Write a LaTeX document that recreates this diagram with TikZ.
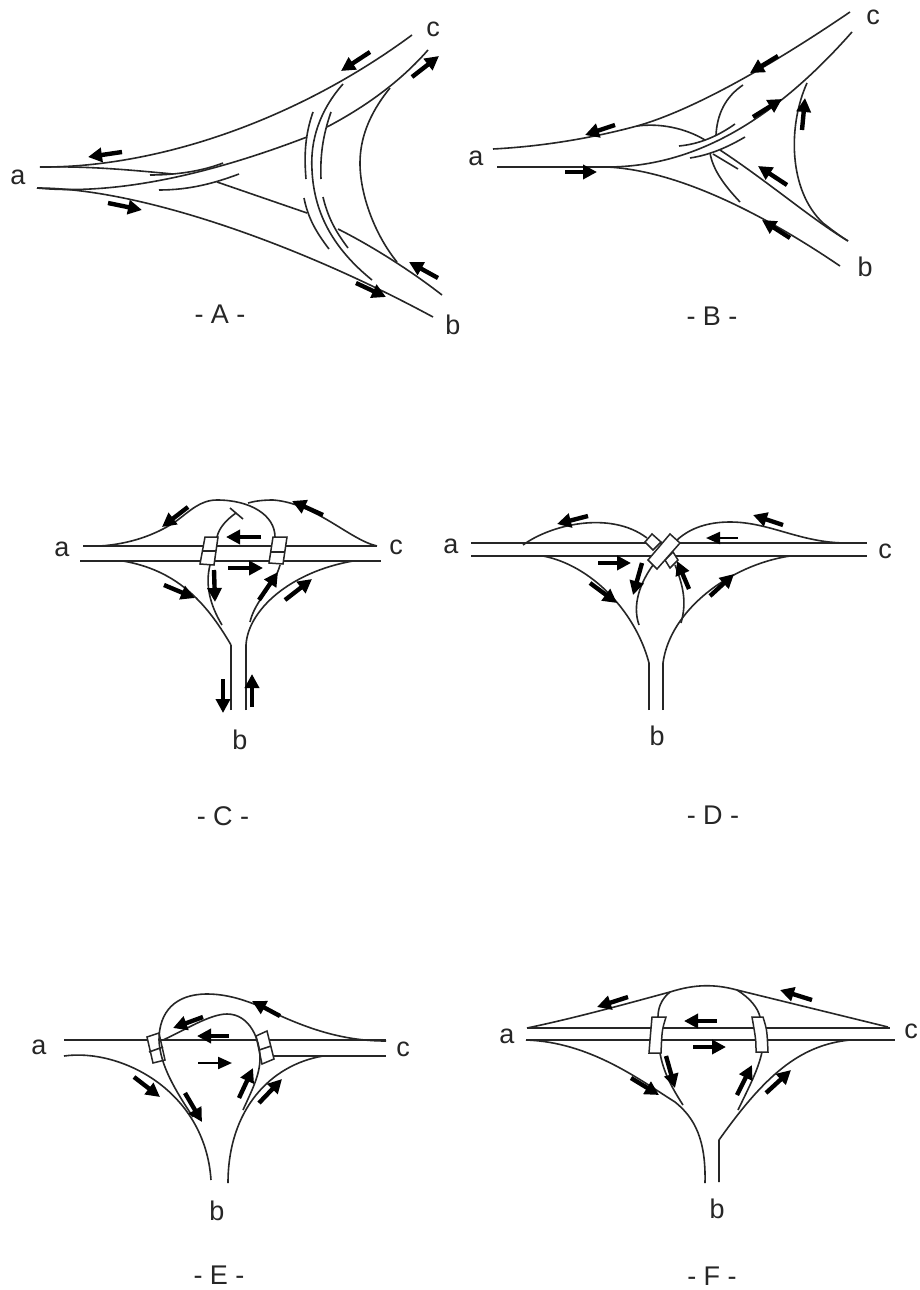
\documentclass[tikz,border=0pt]{standalone}
\usepackage{fontspec}
\setmainfont{Liberation Sans}
\usetikzlibrary{arrows.meta}
\definecolor{ink}{HTML}{262626}
\tikzset{
  road/.style={draw=ink,line width=1.6pt,line join=round},
  deck/.style={draw=ink,line width=1.5pt,fill=white,line join=miter},
  flow/.style={draw=black,line width=4.4pt,-{Triangle[length=14pt,width=14pt]}},
  thinflow/.style={draw=black,line width=2.2pt,-{Triangle[length=14pt,width=12pt]}},
  lab/.style={font=\fontsize{27}{28}\selectfont,text=ink,inner sep=0pt,anchor=center},
  captext/.style={font=\fontsize{27}{28}\selectfont,text=ink,inner sep=0pt,anchor=center}
}
\begin{document}
\begin{tikzpicture}[x=1pt,y=-1pt]
\useasboundingbox (0,0) rectangle (920,1290);
\fill[white] (0,0) rectangle (920,1290);
% ---------- A ----------
\draw[road] (40,167) .. controls (150,168) and (290,125) .. (412,35);
\draw[road] (37,188) .. controls (140,188) and (300,245) .. (433,317);
\draw[road] (40,167) .. controls (90,166) and (130,170) .. (173,174);
\draw[road] (150,175) .. controls (180,175) and (205,170) .. (223,163);
\draw[road] (37,188) .. controls (110,195) and (200,178) .. (307,137);
\draw[road] (327,127) .. controls (365,107) and (400,82) .. (428,50);
\draw[road] (159,190) .. controls (190,190) and (215,183) .. (239,174);
\draw[road] (217,182) -- (307,213);
\draw[road] (313,112) .. controls (305,135) and (304,155) .. (306,179);
\draw[road] (331,112) .. controls (323,135) and (320,155) .. (321,179);
\draw[road] (304,198) .. controls (308,218) and (316,232) .. (329,249);
\draw[road] (323,197) .. controls (328,218) and (336,232) .. (348,248);
\draw[road] (343,84) .. controls (320,110) and (310,140) .. (312,170) .. controls (314,215) and (335,250) .. (372,280);
\draw[road] (390,88) .. controls (368,115) and (360,140) .. (360,163) .. controls (360,195) and (375,235) .. (397,262);
\draw[road] (338,229) .. controls (370,245) and (410,270) .. (442,295);
\draw[flow] (370,52) -- (341,71);
\draw[flow] (122,152) -- (88,157);
\draw[flow] (108,203) -- (142,210);
\draw[flow] (412,77) -- (439,56);
\draw[flow] (438,278) -- (409,262);
\draw[flow] (356,283) -- (386,297);
\node[lab] (Aa) at (18,177) {a};
\node[lab] (Ac) at (433,29) {c};
\node[lab] (Ab) at (453,325) {b};
\node[captext] (Al) at (220,314) {- A -};
% ---------- B ----------
\draw[road] (493,149) .. controls (550,146) and (600,136) .. (637,126) .. controls (680,114) and (750,80) .. (850,12);
\draw[road] (497,167) -- (607,167) .. controls (690,167) and (770,125) .. (852,32);
\draw[road] (607,167) .. controls (670,170) and (750,205) .. (840,266);
\draw[road] (720,150) .. controls (770,183) and (810,218) .. (848,241);
\draw[road] (679,146) .. controls (700,144) and (718,136) .. (735,124);
\draw[road] (690,158) .. controls (710,155) and (728,147) .. (745,137);
\draw[road] (713,154) -- (738,169);
\draw[road] (710,153) .. controls (713,170) and (724,185) .. (740,202);
\draw[road] (743,85) .. controls (725,97) and (717,115) .. (716,135);
\draw[road] (637,126) .. controls (660,123) and (685,128) .. (705,140);
\draw[road] (807,83) .. controls (788,125) and (788,190) .. (823,223) .. controls (832,230) and (840,236) .. (848,241);
\draw[flow] (778,56) -- (750,73);
\draw[flow] (615,125) -- (585,135);
\draw[flow] (753,117) -- (782,99);
\draw[flow] (802,130) -- (805,98);
\draw[flow] (787,185) -- (758,166);
\draw[flow] (790,238) -- (762,220);
\draw[flow] (565,172) -- (597,172);
\node[lab] (Ba) at (476,158) {a};
\node[lab] (Bb) at (865,267) {b};
\node[lab] (Bc) at (873,17) {c};
\node[captext] (Bl) at (712,316) {- B -};
% ---------- C ----------
\draw[road] (83,546) -- (377,546);
\draw[road] (80,561) -- (381,561);
\draw[road] (231,710) -- (231,645);
\draw[road] (246,710) -- (246,645);
\draw[road] (123,561) .. controls (175,570) and (205,600) .. (231,645);
\draw[road] (353,561) .. controls (290,572) and (248,610) .. (246,645);
\draw[road] (100,546) .. controls (130,544) and (155,535) .. (175,522) .. controls (190,511) and (200,500) .. (217,500) .. controls (250,500) and (275,515) .. (275,537);
\draw[road] (377,546) .. controls (350,540) and (315,503) .. (273,500) .. controls (263,500) and (255,501) .. (248,503);
\draw[road] (230,508) -- (243,519);
\draw[road] (236,513) .. controls (226,520) and (219,528) .. (217,537);
\draw[deck] (205,537) -- (218,537) -- (214,565) -- (200,564) -- cycle;
\draw[road] (203,551) -- (216,551);
\draw[deck] (273,537) -- (287,537) -- (283,564) -- (269,563) -- cycle;
\draw[road] (271,552) -- (285,552);
\draw[road] (210,565) .. controls (205,585) and (210,605) .. (222,625);
\draw[road] (280,565) .. controls (275,585) and (255,600) .. (250,622);
\draw[flow] (188,507) -- (162,527);
\draw[flow] (323,515) -- (292,501);
\draw[flow] (261,537) -- (226,537);
\draw[flow] (228,568) -- (263,568);
\draw[flow] (164,585) -- (195,598);
\draw[flow] (214,570) -- (215,602);
\draw[flow] (259,600) -- (278,572);
\draw[flow] (285,600) -- (312,579);
\draw[flow] (223,679) -- (223,713);
\draw[flow] (252,707) -- (252,674);
\node[lab] (Ca) at (62,549) {a};
\node[lab] (Cc) at (396,547) {c};
\node[lab] (Cb) at (240,740) {b};
\node[captext] (Cl) at (223,816) {- C -};
% ---------- D ----------
\draw[road] (471,543) -- (867,543);
\draw[road] (471,556) -- (867,556);
\draw[road] (649,710) -- (649,663);
\draw[road] (663,710) -- (663,663);
\draw[road] (543,556) .. controls (590,565) and (635,610) .. (649,663);
\draw[road] (790,556) .. controls (730,565) and (670,610) .. (663,663);
\draw[road] (523,545) .. controls (550,525) and (610,510) .. (647,538);
\draw[road] (847,543) .. controls (800,543) and (770,522) .. (730,522) .. controls (708,522) and (690,528) .. (677,540);
\draw[road] (653,565) .. controls (640,583) and (632,605) .. (639,625);
\draw[road] (675,565) .. controls (685,590) and (686,605) .. (681,623);
\draw[deck] (652,534) -- (661,542) -- (653,550) -- (645,542) -- cycle;
\draw[deck] (665,560) -- (673,552) -- (678,560) -- (670,568) -- cycle;
\draw[deck] (670,534) -- (680,543) -- (657,569) -- (648,560) -- cycle;
\draw[flow] (588,516) -- (557,524);
\draw[flow] (783,525) -- (753,515);
\draw[thinflow] (738,538) -- (706,538);
\draw[flow] (598,563) -- (631,563);
\draw[flow] (642,563) -- (633,595);
\draw[flow] (689,589) -- (677,561);
\draw[flow] (590,583) -- (617,603);
\draw[flow] (710,596) -- (734,574);
\node[lab] (Da) at (451,546) {a};
\node[lab] (Dc) at (885,551) {c};
\node[lab] (Db) at (657,736) {b};
\node[captext] (Dl) at (713,815) {- D -};
% ---------- E ----------
\draw[road] (64,1040) -- (386,1040);
\draw[road] (273,1056) -- (386,1056);
\draw[road] (64,1056) .. controls (120,1048) and (205,1090) .. (211,1180);
\draw[road] (228,1183) .. controls (228,1110) and (270,1065) .. (323,1056);
\draw[deck] (147,1037) -- (159,1033) -- (165,1060) -- (153,1063) -- cycle;
\draw[road] (149,1052) -- (163,1047);
\draw[deck] (256,1036) -- (267,1031) -- (274,1059) -- (262,1064) -- cycle;
\draw[road] (259,1050) -- (271,1046);
\draw[road] (386,1041) .. controls (345,1041) and (310,1030) .. (270,1011) .. controls (245,999) and (225,994) .. (207,994) .. controls (175,994) and (159,1012) .. (159,1040) .. controls (160,1065) and (175,1090) .. (193,1117);
\draw[road] (163,1040) .. controls (185,1030) and (210,1014) .. (227,1014) .. controls (250,1014) and (260,1040) .. (260,1058) .. controls (260,1075) and (252,1090) .. (243,1110);
\draw[flow] (280,1016) -- (252,1001);
\draw[flow] (203,1017) -- (173,1028);
\draw[flow] (229,1036) -- (197,1036);
\draw[thinflow] (198,1063) -- (232,1063);
\draw[flow] (134,1077) -- (160,1097);
\draw[flow] (185,1093) -- (202,1122);
\draw[flow] (239,1098) -- (253,1068);
\draw[flow] (259,1103) -- (282,1079);
\node[lab] (Ea) at (39,1047) {a};
\node[lab] (Ec) at (403,1049) {c};
\node[lab] (Eb) at (217,1211) {b};
\node[captext] (El) at (219,1275) {- E -};
% ---------- F ----------
\draw[road] (527,1028) -- (890,1028);
\draw[road] (526,1040) -- (895,1040);
\draw[road] (527,1028) .. controls (580,1017) and (640,1000) .. (670,992) .. controls (695,984) and (715,984) .. (737,990) -- (888,1027);
\draw[road] (670,992) .. controls (660,1000) and (658,1010) .. (658,1017);
\draw[road] (737,990) .. controls (750,998) and (758,1008) .. (760,1017);
\draw[deck] (652,1017) -- (666,1017) .. controls (662,1030) .. (661,1053) -- (649,1053) .. controls (650,1040) .. cycle;
\draw[deck] (752,1017) -- (763,1017) .. controls (767,1030) .. (768,1052) -- (756,1052) .. controls (756,1040) .. cycle;
\draw[road] (660,1053) .. controls (663,1070) and (670,1085) .. (683,1105);
\draw[road] (762,1052) .. controls (758,1070) and (750,1085) .. (738,1110);
\draw[road] (526,1040) .. controls (590,1042) and (640,1080) .. (675,1102) .. controls (695,1118) and (706,1140) .. (705,1183);
\draw[road] (850,1040) .. controls (800,1045) and (765,1075) .. (719,1140) -- (719,1182);
\draw[flow] (628,997) -- (597,1007);
\draw[flow] (812,1000) -- (780,990);
\draw[flow] (717,1021) -- (684,1021);
\draw[flow] (693,1047) -- (726,1047);
\draw[flow] (631,1078) -- (659,1095);
\draw[flow] (666,1056) -- (675,1088);
\draw[flow] (737,1095) -- (752,1065);
\draw[flow] (766,1093) -- (791,1070);
\node[lab] (Fa) at (507,1036) {a};
\node[lab] (Fc) at (911,1031) {c};
\node[lab] (Fb) at (717,1209) {b};
\node[captext] (Fl) at (712,1276) {- F -};
\end{tikzpicture}
\end{document}
